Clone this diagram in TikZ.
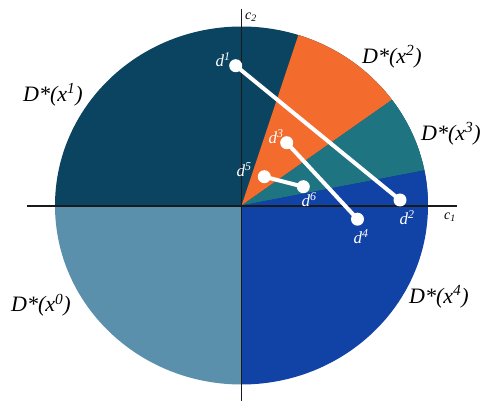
\documentclass[tikz,border=0pt]{standalone}
\usepackage{fontspec}
\setmainfont{Liberation Serif}
\definecolor{cDark}{HTML}{0B4461}
\definecolor{cLight}{HTML}{5B90AD}
\definecolor{cBlue}{HTML}{1142A6}
\definecolor{cTeal}{HTML}{1F7482}
\definecolor{cOrange}{HTML}{F36B2D}
\definecolor{cAxis}{HTML}{1A1A1A}
\tikzset{
  pt/.style={circle, fill=white, inner sep=0pt, minimum size=13pt},
  link/.style={white, line width=4pt},
  dlab/.style={white, font=\fontsize{17}{20}\selectfont\itshape, inner sep=0pt},
  slab/.style={black, font=\fontsize{22}{26}\selectfont\itshape, inner sep=0pt},
  alab/.style={black, font=\fontsize{14}{16}\selectfont\itshape, inner sep=0pt},
  axis/.style={cAxis, line width=1.1pt}
}
\begin{document}
\begin{tikzpicture}[x=1pt, y=-1pt]
\useasboundingbox (0,0) rectangle (483,401);
\coordinate (O) at (241.5,205.5);
\begin{scope}
  \clip (O) ellipse [x radius=186.5, y radius=179];
  \fill[cDark] (-10,-10) rectangle (241.5,205.5);
  \fill[cDark] (241.5,-10) rectangle (700,205.5);
  \fill[cLight] (-10,205.5) rectangle (241.5,500);
  \fill[cBlue] (241.5,205.5) rectangle (700,500);
  \fill[cOrange] (O) -- (356.5,-139.5) -- (541.9,-5.5) -- cycle;
  \fill[cTeal] (O) -- (541.9,-5.5) -- (605.5,135.5) -- cycle;
  \fill[cBlue] (O) -- (605.5,135.5) -- (700,135.5) -- (700,205.5) -- cycle;
\end{scope}
% axes
\coordinate (xs) at (27,206);
\coordinate (xe) at (457,206);
\coordinate (ys) at (241.7,9);
\coordinate (ye) at (241.7,401);
\draw[axis] (xs) -- (xe);
\draw[axis] (ys) -- (ye);
\node[alab] (c1) at (450,217) {c\textsubscript{1}};
\node[alab] (c2) at (251,17) {c\textsubscript{2}};
% points
\node[pt] (d1) at (235.7,65.7) {};
\node[pt] (d2) at (400,200) {};
\node[pt] (d3) at (286.7,142.7) {};
\node[pt] (d4) at (357.5,219.2) {};
\node[pt] (d5) at (264.3,176.7) {};
\node[pt] (d6) at (303.3,186.7) {};
\draw[link] (d1.center) -- (d2.center);
\draw[link] (d3.center) -- (d4.center);
\draw[link] (d5.center) -- (d6.center);
\node[dlab] (l1) at (223,60) {d\textsuperscript{1}};
\node[dlab] (l2) at (407,218) {d\textsuperscript{2}};
\node[dlab] (l3) at (276,137) {d\textsuperscript{3}};
\node[dlab] (l4) at (361,237) {d\textsuperscript{4}};
\node[dlab] (l5) at (244,170) {d\textsuperscript{5}};
\node[dlab] (l6) at (309,200) {d\textsuperscript{6}};
% sector labels
\node[slab] (s0) at (41,305) {D*(x\textsuperscript{0})};
\node[slab] (s1) at (53,95) {D*(x\textsuperscript{1})};
\node[slab] (s2) at (392,57) {D*(x\textsuperscript{2})};
\node[slab] (s3) at (451,134) {D*(x\textsuperscript{3})};
\node[slab] (s4) at (439,297) {D*(x\textsuperscript{4})};
\end{tikzpicture}
\end{document}
